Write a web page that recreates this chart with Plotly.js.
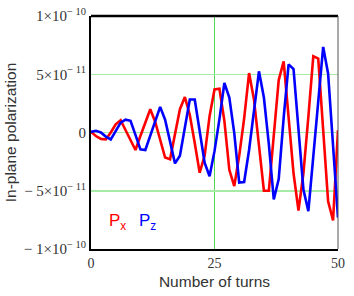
<!DOCTYPE html>
<html>
<head>
<meta charset="utf-8">
<script src="https://cdn.plot.ly/plotly-3.0.1.min.js"></script>
<style>html,body{margin:0;padding:0;background:#fff;}#chart{width:354px;height:296px;}</style>
</head>
<body>
<div id="chart"></div>
<script>
// Number of turns
var turns = [0,1,2,3,4,5,6,7,8,9,10,11,12,13,14,15,16,17,18,19,20,21,22,23,24,25,26,27,28,29,30,31,32,33,34,35,36,37,38,39,40,41,42,43,44,45,46,47,48,49,50];
// In-plane polarization, in units of 1e-11
var px = [0.05,-0.3,-0.55,-0.6,0.0,0.7,1.05,0.15,-0.75,-1.5,-0.3,0.9,2.0,0.9,-0.6,-2.15,-2.3,0.0,2.0,3.05,1.5,-0.9,-3.45,-2.0,1.4,3.7,3.75,1.0,-3.2,-4.6,-2.0,1.2,5.1,2.8,-1.3,-5.0,-5.0,-0.1,4.5,6.1,1.3,-3.5,-6.7,-3.5,1.35,6.55,6.35,0.2,-5.9,-7.55,0.2];
var pz = [0.05,0.15,0.0,-0.35,-0.6,0.1,0.85,1.1,1.0,-0.2,-1.45,-1.5,-0.3,0.95,2.2,1.1,-0.7,-2.65,-2.0,0.25,2.83,2.83,0.1,-2.6,-3.75,-1.6,1.15,4.25,3.0,-0.05,-4.3,-4.25,-1.5,1.65,5.25,3.0,-1.0,-5.75,-4.0,1.25,5.85,5.45,-0.1,-4.9,-6.75,-2.15,2.45,7.35,5.05,-1.1,-7.3];
var yTickVals = [-10,-5,0,5,10];
var yTickText = ["\u2212 1\u00d710<sup>\u2212 10</sup>","\u2212 5\u00d710<sup>\u2212 11</sup>","0","5\u00d710<sup>\u2212 11</sup>","1\u00d710<sup>\u2212 10</sup>"];
var xTickVals = [0,25,50];

var traces = [
  {x: turns, y: px, type:'scatter', mode:'lines', name:'Px', line:{color:'#ff0000', width:2.6}},
  {x: turns, y: pz, type:'scatter', mode:'lines', name:'Pz', line:{color:'#0000ff', width:2.6}}
];
var layout = {
  width:354, height:296,
  margin:{l:91, r:16, t:16, b:47},
  paper_bgcolor:'#fff', plot_bgcolor:'#fff',
  showlegend:false,
  xaxis:{range:[0,50], tickvals:xTickVals, ticks:'', showgrid:true, gridcolor:'#55d655', gridwidth:1,
         zeroline:false, showline:true, linecolor:'#000', linewidth:2,
         tickfont:{family:'Liberation Serif', size:14, color:'#333'},
         title:{text:'Number of turns', font:{family:'Liberation Sans', size:15.5, color:'#333'}, standoff:6}},
  yaxis:{range:[-10,10], tickvals:yTickVals, ticktext:yTickText, ticks:'', showgrid:true, gridcolor:'#a6eca6', gridwidth:1.5,
         zeroline:false, showline:true, linecolor:'#000', linewidth:2,
         tickfont:{family:'Liberation Serif', size:15, color:'#333'},
         title:{text:'In-plane polarization', font:{family:'Liberation Sans', size:15.5, color:'#333'}, standoff:3}},
  shapes:[
    {type:'line', xref:'paper', yref:'paper', x0:0, x1:1, y0:1, y1:1, line:{color:'#000', width:2.5}},
    {type:'line', xref:'paper', yref:'paper', x0:1, x1:1, y0:0, y1:1, line:{color:'#555', width:1}}
  ],
  annotations:[
    {xref:'x', yref:'y', x:3.2, y:-7.7, xanchor:'left', yanchor:'middle', showarrow:false,
     text:'P<sub>x</sub>', font:{family:'Liberation Sans', size:17, color:'#ff0000'}},
    {xref:'x', yref:'y', x:9.3, y:-7.7, xanchor:'left', yanchor:'middle', showarrow:false,
     text:'P<sub>z</sub>', font:{family:'Liberation Sans', size:17, color:'#0000ff'}}
  ]
};
Plotly.newPlot('chart', traces, layout, {displayModeBar:false, staticPlot:true});
</script>
</body>
</html>
